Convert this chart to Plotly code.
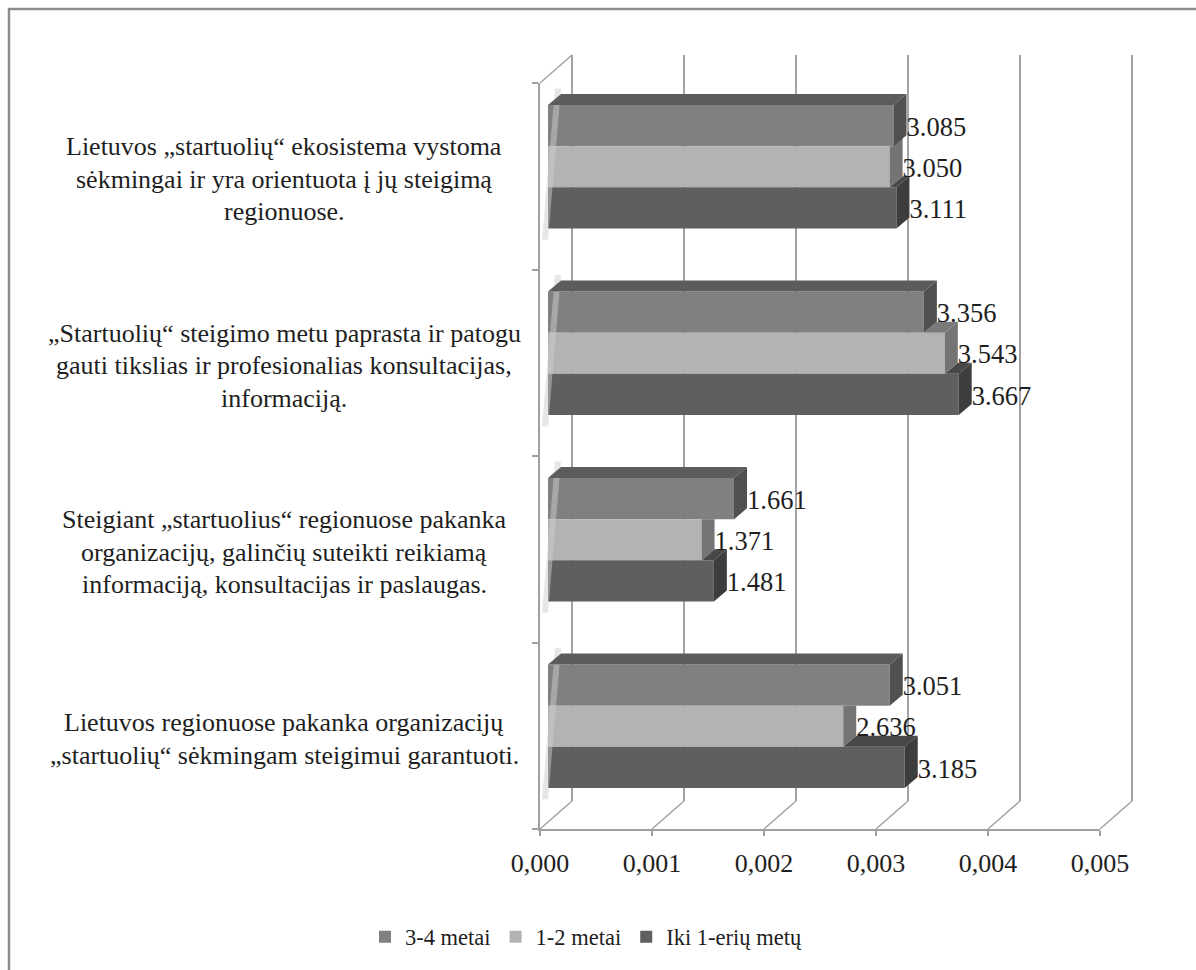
import plotly.graph_objects as go

# ---------------- data ----------------
categories = [
    ["Lietuvos „startuolių“ ekosistema vystoma",
     "sėkmingai ir yra orientuota į jų steigimą",
     "regionuose."],
    ["„Startuolių“ steigimo metu paprasta ir patogu",
     "gauti tikslias ir profesionalias konsultacijas,",
     "informaciją."],
    ["Steigiant „startuolius“ regionuose pakanka",
     "organizacijų, galinčių suteikti reikiamą",
     "informaciją, konsultacijas ir paslaugas."],
    ["Lietuvos regionuose pakanka organizacijų",
     "„startuolių“ sėkmingam steigimui garantuoti."],
]
series_names = ["3-4 metai", "1-2 metai", "Iki 1-erių metų"]
vals_34 = [3.085, 3.356, 1.661, 3.051]
vals_12 = [3.050, 3.543, 1.371, 2.636]
vals_iki = [3.111, 3.667, 1.481, 3.185]
x_ticks = [0.0, 0.001, 0.002, 0.003, 0.004, 0.005]
x_tick_labels = ["0,000", "0,001", "0,002", "0,003", "0,004", "0,005"]

series_vals = [vals_34, vals_12, vals_iki]
front_colors = ["#808080", "#b3b3b3", "#5f5f5f"]
side_colors = ["#505050", "#747474", "#3d3d3d"]
top_colors = ["#5c5c5c", "#7a7a7a", "#484848"]

# ---------------- geometry ----------------
W, H = 1196, 970
ML, MR, MT, MB = 540, 96, 83, 141
PW, PH = W - ML - MR, H - MT - MB
XMAX = 0.005
ppx = PW / XMAX              # pixels per x unit
ppy = PH / 4.0               # pixels per category band
bar_shift = 8 / ppx          # bars sit slightly behind the front axis
dx = 13 / ppx                # depth offset of bar faces
dy = 11 / ppy
bar_w = 0.2205
slot_offsets = [0.661, 0.4405, 0.22]   # bottom edge of each series inside its band
wall_dx = 32 / PW
wall_dy = 28 / PH

FONT = "Liberation Serif"
TXT = "#1e1e1e"

fig = go.Figure()

# faint shadow at the left end of each bar group (on the side wall)
shx, shy = [], []
for i in range(len(categories)):
    gtop = (3 - i) + slot_offsets[0] + bar_w
    gbot = (3 - i) + slot_offsets[2]
    p = [(-6 / ppx, gbot - 0.06), (0, gbot - 0.06), (dx, gtop + dy + 0.03), (-6 / ppx + dx, gtop + dy + 0.03)]
    for (a, b) in p + [p[0]]:
        shx.append(a); shy.append(b)
    shx.append(None); shy.append(None)
fig.add_trace(go.Scatter(x=shx, y=shy, mode="lines", fill="toself",
                         fillcolor="rgba(205,205,205,0.5)", line=dict(width=0),
                         showlegend=False, hoverinfo="skip", xaxis="x", yaxis="y"))

# front faces (bars)
for s, name in enumerate(series_names):
    ys = [(3 - i) + slot_offsets[s] + bar_w / 2 for i in range(len(categories))]
    xs = [v / 1000 for v in series_vals[s]]
    fig.add_trace(go.Bar(
        x=xs, y=ys, orientation="h", width=bar_w, name=name,
        marker=dict(color=front_colors[s], line=dict(width=0)),
        xaxis="x", yaxis="y", hoverinfo="skip",
    ))

# 3D faces drawn back (bottom series) to front (top series)
for s in [2, 1, 0]:
    sx, sy, tx, ty = [], [], [], []
    for i in range(len(categories)):
        L = series_vals[s][i] / 1000
        ybot = (3 - i) + slot_offsets[s]
        ytop = ybot + bar_w
        up = series_vals[s - 1][i] / 1000 if s > 0 else None
        polys_side, polys_top = [], []
        if up is None:
            polys_side.append([(L, ybot), (L, ytop), (L + dx, ytop + dy), (L + dx, ybot + dy)])
            polys_top.append([(0, ytop), (L, ytop), (L + dx, ytop + dy), (dx, ytop + dy)])
        else:
            polys_side.append([(L, ybot), (L, ytop), (L + dx, ytop), (L + dx, ybot + dy)])
            if up <= L:
                polys_side.append([(L, ytop), (L + dx, ytop), (L + dx, ytop + dy)])
            elif up < L + dx:
                t = (up - L) / dx
                polys_side.append([(up, ytop), (L + dx, ytop), (L + dx, ytop + dy), (up, ytop + t * dy)])
            if L > up:
                polys_top.append([(up, ytop), (L, ytop), (L + dx, ytop + dy), (up + dx, ytop + dy)])
        for p in polys_side:
            for (a, b) in p + [p[0]]:
                sx.append(a); sy.append(b)
            sx.append(None); sy.append(None)
        for p in polys_top:
            for (a, b) in p + [p[0]]:
                tx.append(a); ty.append(b)
            tx.append(None); ty.append(None)
    if tx:
        fig.add_trace(go.Scatter(x=tx, y=ty, mode="lines", fill="toself",
                                 fillcolor=top_colors[s], line=dict(width=0),
                                 showlegend=False, hoverinfo="skip", xaxis="x", yaxis="y"))
    fig.add_trace(go.Scatter(x=sx, y=sy, mode="lines", fill="toself",
                             fillcolor=side_colors[s], line=dict(width=0),
                             showlegend=False, hoverinfo="skip", xaxis="x", yaxis="y"))

# data labels
for s in range(3):
    xs = [v / 1000 + dx for v in series_vals[s]]
    ys = [(3 - i) + slot_offsets[s] + bar_w / 2 - 0.019 for i in range(len(categories))]
    fig.add_trace(go.Scatter(
        x=xs, y=ys, mode="text", text=["%.3f" % v for v in series_vals[s]],
        textposition="middle right", textfont=dict(family=FONT, size=26.5, color=TXT),
        showlegend=False, hoverinfo="skip", xaxis="x", yaxis="y", cliponaxis=False,
    ))

# ---------------- decorations (back wall, floor, frame) ----------------
shapes = []
grid_col = "#a3a3a3"
for t in x_ticks:
    xf = t / XMAX
    shapes.append(dict(type="line", xref="paper", yref="paper",
                       x0=xf + wall_dx, x1=xf + wall_dx, y0=wall_dy, y1=1 + wall_dy,
                       line=dict(color=grid_col, width=2), layer="below"))
    shapes.append(dict(type="line", xref="paper", yref="paper",
                       x0=xf, x1=xf + wall_dx, y0=0, y1=wall_dy,
                       line=dict(color=grid_col, width=1.5), layer="below"))
shapes.append(dict(type="line", xref="paper", yref="paper",
                   x0=0, x1=wall_dx, y0=1, y1=1 + wall_dy,
                   line=dict(color=grid_col, width=1.5), layer="below"))


def pxx(p):
    return (p - ML) / PW


def pxy(p):
    return (H - MB - p) / PH


shapes.append(dict(type="line", xref="paper", yref="paper",
                   x0=pxx(9), x1=pxx(9), y0=pxy(8), y1=pxy(H + 5),
                   line=dict(color="#8c8c8c", width=2.5)))
shapes.append(dict(type="line", xref="paper", yref="paper",
                   x0=pxx(8), x1=pxx(W + 5), y0=pxy(9), y1=pxy(9),
                   line=dict(color="#8c8c8c", width=2.5)))

# category labels (one annotation per text line)
LINE_H = 32.5
annotations = []
for i, lines in enumerate(categories):
    yc_px = (H - MB) - ((3 - i) + 0.5) * ppy + 3
    n = len(lines)
    for k, ln in enumerate(lines):
        ypx = yc_px + (k - (n - 1) / 2) * LINE_H
        annotations.append(dict(
            text=ln, xref="paper", yref="paper", x=pxx(284), y=pxy(ypx),
            xanchor="center", yanchor="middle", showarrow=False, align="center",
            font=dict(family=FONT, size=26, color=TXT),
        ))

fig.update_layout(
    template="none",
    width=W, height=H,
    margin=dict(l=ML, r=MR, t=MT, b=MB, autoexpand=False),
    paper_bgcolor="white", plot_bgcolor="rgba(0,0,0,0)",
    barmode="overlay",
    showlegend=True,
    legend=dict(orientation="h", xref="container", yref="container",
                x=586 / W, y=1 - 937 / H, xanchor="center", yanchor="middle",
                font=dict(family=FONT, size=22.5, color=TXT), traceorder="normal",
                itemwidth=30, bgcolor="rgba(0,0,0,0)"),
    xaxis=dict(range=[-bar_shift, XMAX - bar_shift], domain=[0, 1], visible=False,
               fixedrange=True, automargin=False),
    xaxis2=dict(range=[0, XMAX], overlaying="x", anchor="y", side="bottom",
                tickvals=x_ticks, ticktext=x_tick_labels, showgrid=False, zeroline=False,
                showline=True, linecolor="#a0a0a0", linewidth=2,
                ticks="outside", ticklen=5, tickcolor="#a0a0a0", tickwidth=1.5,
                ticklabelstandoff=5, automargin=False,
                tickfont=dict(family=FONT, size=26, color=TXT)),
    yaxis=dict(range=[0, 4], tickvals=[0, 1, 2, 3, 4], showticklabels=False,
               showgrid=False, zeroline=False, showline=True, linecolor="#a0a0a0",
               linewidth=2, ticks="outside", ticklen=6, tickcolor="#a0a0a0",
               tickwidth=1.5, anchor="x2", automargin=False),
    shapes=shapes,
    annotations=annotations,
)

# dummy trace to activate xaxis2
fig.add_trace(go.Scatter(x=[0], y=[0], xaxis="x2", yaxis="y", mode="markers",
                         marker=dict(opacity=0), showlegend=False, hoverinfo="skip"))

fig.write_html("out.html")
